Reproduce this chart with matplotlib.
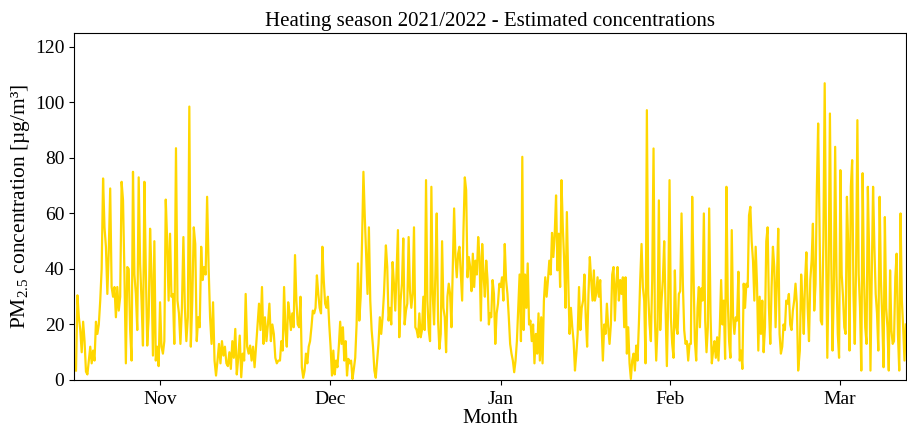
import numpy as np
import matplotlib
matplotlib.use("Agg")
import matplotlib.pyplot as plt

plt.rcParams["font.family"] = ["Liberation Serif", "DejaVu Serif"]
plt.rcParams["mathtext.fontset"] = "custom"
plt.rcParams["mathtext.rm"] = "Liberation Serif"
plt.rcParams["mathtext.it"] = "Liberation Serif:italic"

# Estimated PM2.5 concentrations (µg/m³), one block per stretch of the season.
# Each block is sampled evenly between its first and last day (days since 15 Oct 2021).
block_days = [
    (0.36, 18.00),
    (18.30, 36.66),
    (36.96, 55.62),
    (55.97, 74.45),
    (74.63, 93.29),
    (93.47, 112.13),
    (112.31, 129.95),
    (130.25, 149.26),
]

pm_late_oct = [
    3.4, 30.5, 22.6, 18, 10, 21, 14, 3, 2, 7, 12, 6, 10.6, 7, 21, 16.6, 20, 28.6,
    40, 72.6, 55, 48, 31, 46.7, 69, 33.5, 30, 33.5, 22.6, 33.5, 25, 30, 71.4, 64.8,
    38, 6, 40.7, 40, 18, 7, 75, 38, 31, 18, 73, 42, 28.6, 12.4, 71.4, 39.5, 12.4,
    22.6, 54.5, 38, 8.8, 50, 7, 12, 5, 28, 12, 9.5, 14, 65, 50, 28.6, 52.7, 30, 31, 13,
]
pm_november = [
    83.5, 28.6, 24, 13, 26, 51.5, 26, 14, 22.6, 98.5, 12, 28.6, 55, 49, 14, 22.6,
    19, 48, 36, 40.7, 38, 66, 40.7, 22.6, 13, 28, 7, 1.6, 7, 13, 6, 14, 8.8, 12, 6,
    5, 10, 4, 14, 8, 18.4, 2, 8, 16, 1, 9.5, 7, 31, 12, 9.5, 12.4, 7, 12, 4.6, 12,
    20, 27.5, 18, 33.5, 13, 22.6, 14, 20, 27.5, 14, 20, 16.6, 8, 6, 7,
]
pm_early_dec = [
    7, 14, 10.6, 33.5, 18, 12, 28, 24, 18, 24, 19, 45, 28.6, 20, 19, 30, 4.6, 0.8,
    3.4, 9.5, 6, 12, 14, 19, 25, 24, 26, 37.7, 31, 26, 24, 48, 36, 27.5, 26, 30, 20,
    12, 1.6, 10.6, 2, 7, 4.6, 12, 21, 13, 19, 7, 14, 1.6, 7.6, 6, 7, 0.4, 4, 8, 20,
    42, 21.4, 30, 50, 75, 58.7, 44.3, 31, 55, 28.6, 18, 12, 3.4, 0.8, 7, 13, 22.6,
    16.6, 22.6, 31,
]
pm_late_dec = [
    48.5, 40.7, 21.4, 26, 20, 42.5, 34.7, 25, 39.5, 54, 15.4, 28.6, 34.7, 51, 20,
    25, 27.5, 51.5, 32, 26, 31, 55, 19, 18, 15.4, 24, 15.4, 18, 30, 18, 72, 28.6, 18,
    14, 69.6, 31, 20, 38, 60, 21.4, 11.2, 16.6, 50, 26, 22.6, 10, 30, 34.7, 31, 19,
    40.7, 61.8, 44.3, 37, 45.5, 48, 38, 28.6, 54, 73, 68.4, 37, 44.3, 40.7, 32, 45.5,
    33.5, 43, 38, 51.5, 44.3, 21.4, 49, 38, 30, 43, 36, 20,
]
pm_january = [
    24, 22.6, 36, 31, 13, 24, 27.5, 34.7, 33.5, 37, 28.6, 49, 36, 31, 22.6, 13, 9.5,
    7, 2.8, 7, 14, 26, 38, 14, 80.4, 18, 38, 26, 42, 20, 21.4, 14, 20, 6, 16.6, 9.5,
    24, 7, 22.6, 6, 28.6, 37, 30, 36, 43, 38, 53, 44.3, 52.7, 66.5, 39.5, 52.7, 33.5,
    72, 55, 43, 26, 60.5, 36, 16.6, 26, 19, 14, 3.4, 9.5, 16.6, 33.5, 18, 26, 28.6,
    38, 22.6, 12, 31, 44.3, 36, 28.6, 39.5,
]
pm_late_jan = [
    28.6, 31, 37, 30, 36, 20, 7, 20, 16.6, 27.5, 19, 13, 20, 38, 40.7, 21.4, 34.7,
    40.7, 28.6, 36, 31, 37, 19, 37, 9.5, 19, 6, 0.4, 7, 9.5, 3.4, 12.4, 7, 20, 36, 49,
    33.5, 28.6, 6, 97.2, 31, 20, 14, 36, 83.4, 22.6, 7, 19, 64.7, 18, 28.6, 36, 50, 26,
    5, 28.6, 72, 22.6, 13, 8, 39.5, 19, 16.6, 31, 32, 60, 34.7, 18, 13, 14, 7, 13, 13,
    66, 38, 14, 7, 26, 33.5,
]
pm_february = [
    19, 33, 28.6, 60, 21.4, 10, 19, 61.8, 24, 6, 10.6, 14, 8, 15.4, 7, 19, 36, 20,
    28.6, 7.6, 69.6, 28.6, 14, 8, 54, 22.6, 16.6, 22.6, 21.4, 39, 7, 10.6, 4, 34.7,
    26, 34.7, 33.5, 59.3, 62.4, 50, 43, 28.6, 48, 34.7, 10.6, 30, 16.6, 28.6, 10, 19,
    50, 55, 26, 13, 33.5, 48, 40.7, 19, 36, 54.5, 16.6, 9.5, 12, 20, 18, 28.6, 27.5,
    31, 20, 18, 25, 28.6, 34.7, 27.5, 3.4,
]
pm_march = [
    10.6, 38, 28.6, 16.6, 36, 46, 26, 14, 36, 43, 56.3, 25, 34.7, 68.4, 92.4, 56.3,
    21.4, 20, 50, 106.9, 50, 8, 38, 96, 44.3, 10.6, 33.5, 84, 38, 16.6, 8, 75.6, 38,
    30, 19, 16.6, 66, 48, 10.6, 69.6, 79.2, 31, 13, 40.7, 93.6, 38, 26, 3.4, 74.5, 38,
    19, 13, 69.6, 45.5, 3.4, 38, 69.6, 48, 31, 24, 10.6, 66, 36, 22.6, 4.6, 58.7, 26,
    19, 3.4, 39.5, 18, 13, 14, 37, 45.5, 16.6, 3.4, 60, 28.6, 19, 7, 20,
]

month_ticks = [15.5, 46.0, 76.6, 107.0, 137.4]
month_labels = ["Nov", "Dec", "Jan", "Feb", "Mar"]

blocks = [pm_late_oct, pm_november, pm_early_dec, pm_late_dec,
          pm_january, pm_late_jan, pm_february, pm_march]
days = np.concatenate([np.linspace(a, b, len(v)) for (a, b), v in zip(block_days, blocks)])
pm25 = np.concatenate([np.asarray(v, float) for v in blocks])

fig = plt.figure(figsize=(9.07, 4.26), dpi=100)
ax = fig.add_axes([74 / 907, 46 / 426, 832 / 907, 347 / 426])
ax.plot(days, pm25, color="gold", linewidth=1.6)

ax.set_xlim(0, 149.3)
ax.set_ylim(0, 125)
ax.set_yticks([0, 20, 40, 60, 80, 100, 120])
ax.set_xticks(month_ticks)
ax.set_xticklabels(month_labels)
ax.tick_params(labelsize=14)
ax.tick_params(axis="x", pad=4.5)

ax.set_title("Heating season 2021/2022 - Estimated concentrations", fontsize=15, pad=5)
ax.set_xlabel("Month", fontsize=15, labelpad=0.5)
ax.set_ylabel("PM$_{2.5}$ concentration [µg/m³]", fontsize=15.5, labelpad=2)

fig.savefig("out.png", dpi=100)
